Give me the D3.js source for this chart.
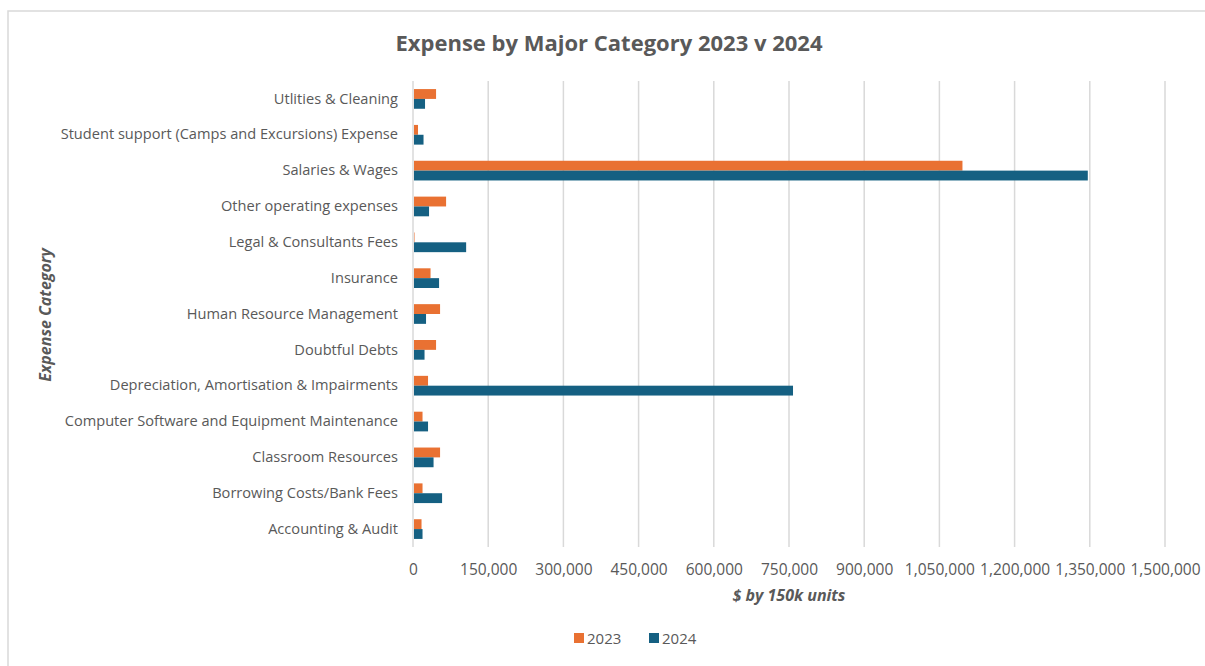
<!DOCTYPE html>
<html>
<head>
<meta charset="utf-8">
<title>Expense by Major Category 2023 v 2024</title>
<style>
body {
  margin: 0;
  background: #fff;
  font-family: "Open Sans", "Noto Sans", sans-serif;
}

svg {
  display: block;
}

.grid line {
  stroke: #d9d9d9;
  stroke-width: 1.5px;
}

.tick text, .cat text {
  fill: #595959;
}
</style>
<script src="https://d3js.org/d3.v7.min.js"></script>
</head>
<body>
<script>
const categories = [
  'Utlities & Cleaning',
  'Student support (Camps and Excursions) Expense',
  'Salaries & Wages',
  'Other operating expenses',
  'Legal & Consultants Fees',
  'Insurance',
  'Human Resource Management',
  'Doubtful Debts',
  'Depreciation, Amortisation & Impairments',
  'Computer Software and Equipment Maintenance',
  'Classroom Resources',
  'Borrowing Costs/Bank Fees',
  'Accounting & Audit'
];
const series = ['2023', '2024'];
const values2023 = [46000, 10000, 1096000, 66000, 3000, 35000, 54000, 46000, 30000, 19000, 54000, 19000, 17000];
const values2024 = [24000, 21000, 1346000, 32000, 106000, 52000, 26000, 23000, 758000, 30000, 41000, 58000, 19000];
const xTicks = [0, 150000, 300000, 450000, 600000, 750000, 900000, 1050000, 1200000, 1350000, 1500000];
const colors = ['#e97132', '#156082'];

const width = 1205,
  height = 666;
const margin = {left: 413, right: 40, top: 81, bottom: 119};

const svg = d3.select('body').append('svg')
  .attr('width', width)
  .attr('height', height);

// chart border
svg.append('rect')
  .attr('x', 8).attr('y', 11)
  .attr('width', width - 8 + 2).attr('height', height - 11 + 2)
  .attr('fill', 'none')
  .attr('stroke', '#d9d9d9')
  .attr('stroke-width', 1.5);

const x = d3.scaleLinear()
  .domain([0, 1500000])
  .range([margin.left, 1165]);

const y = d3.scaleBand()
  .domain(categories)
  .range([margin.top, height - margin.bottom]);

const y1 = d3.scaleBand()
  .domain(series)
  .range([0, y.bandwidth()])
  .paddingOuter(0.82);

// gridlines
svg.append('g')
  .attr('class', 'grid')
  .selectAll('line')
  .data(xTicks)
  .enter().append('line')
    .attr('x1', d => x(d)).attr('x2', d => x(d))
    .attr('y1', margin.top).attr('y2', height - margin.bottom);

// x axis labels
const xAxis = svg.append('g')
  .attr('transform', 'translate(0,' + (height - margin.bottom) + ')')
  .call(d3.axisBottom(x).tickValues(xTicks).tickSize(0).tickPadding(17)
    .tickFormat(d3.format(',')));
xAxis.select('.domain').remove();
xAxis.selectAll('text')
  .style('font-size', '15.5px')
  .style('font-family', '"Open Sans", sans-serif');

// category labels
const yAxis = svg.append('g')
  .attr('class', 'cat')
  .attr('transform', 'translate(' + margin.left + ',0)')
  .call(d3.axisLeft(y).tickSize(0).tickPadding(15));
yAxis.select('.domain').remove();
yAxis.selectAll('text')
  .style('font-size', '14.6px')
  .style('font-family', '"Open Sans", sans-serif');

// bars
const rows = categories.map((c, i) => ({cat: c, vals: [values2023[i], values2024[i]]}));

const group = svg.append('g')
  .selectAll('g')
  .data(rows)
  .enter().append('g')
    .attr('transform', d => 'translate(0,' + y(d.cat) + ')');

group.selectAll('rect')
  .data(d => d.vals.map((v, j) => ({key: series[j], value: v, j: j})))
  .enter().append('rect')
    .attr('x', x(0) + 1)
    .attr('y', d => y1(d.key))
    .attr('width', d => Math.max(0, x(d.value) - x(0) - 1))
    .attr('height', y1.bandwidth())
    .attr('fill', d => colors[d.j]);

// title
svg.append('text')
  .attr('x', 609)
  .attr('y', 51)
  .attr('text-anchor', 'middle')
  .style('font-size', '22px')
  .style('font-weight', 'bold')
  .style('fill', '#595959')
  .text('Expense by Major Category 2023 v 2024');

// axis titles
svg.append('text')
  .attr('x', 789)
  .attr('y', 601)
  .attr('text-anchor', 'middle')
  .style('font-size', '16px')
  .style('font-weight', 'bold')
  .style('font-style', 'italic')
  .style('fill', '#595959')
  .text('$ by 150k units');

svg.append('text')
  .attr('transform', 'translate(51,315) rotate(-90)')
  .attr('text-anchor', 'middle')
  .style('font-size', '16px')
  .style('font-weight', 'bold')
  .style('font-style', 'italic')
  .style('fill', '#595959')
  .text('Expense Category');

// legend
const legend = svg.append('g')
  .selectAll('g')
  .data(series)
  .enter().append('g')
    .attr('transform', (d, i) => 'translate(' + (574 + i * 75) + ',638)');

legend.append('rect')
  .attr('x', 0).attr('y', -5)
  .attr('width', 10).attr('height', 10)
  .attr('fill', (d, i) => colors[i]);

legend.append('text')
  .attr('x', 13)
  .attr('y', 6)
  .style('font-size', '15px')
  .style('fill', '#595959')
  .text(d => d);
</script>
</body>
</html>
